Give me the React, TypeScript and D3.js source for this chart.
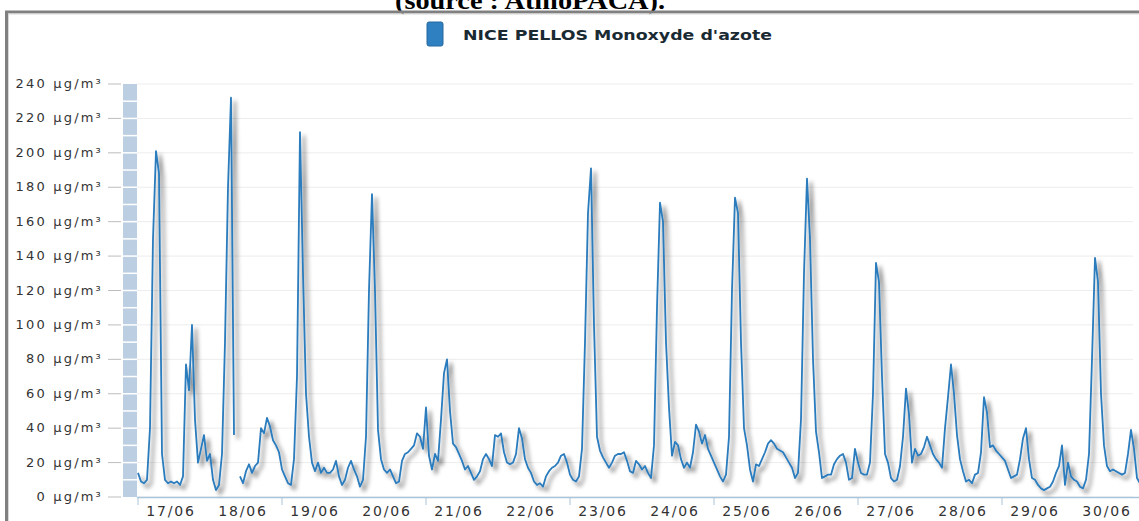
import React from "react";
import * as d3 from "d3";

// ---- Data (hourly NO, µg/m³), 2008-06-17 00:00 onwards ----
const day17 = [14, 9, 8, 10, 40, 150, 201, 188, 25, 10, 8, 9, 8, 9, 7, 12, 77, 62, 100, 45, 20, 28, 36, 21];
const day18 = [25, 10, 4, 7, 25, 90, 180, 232, 36, null, 12, 8, 15, 19, 14, 18, 20, 40, 37, 46, 41, 33, 30, 26];
const day19 = [16, 12, 8, 7, 22, 70, 212, 130, 60, 35, 20, 15, 20, 14, 17, 14, 14, 16, 21, 12, 7, 10, 17, 21];
const day20 = [16, 12, 6, 10, 35, 120, 176, 120, 39, 22, 16, 14, 16, 12, 8, 9, 21, 25, 26, 28, 30, 37, 35, 28];
const day21 = [52, 24, 16, 25, 21, 45, 72, 80, 50, 31, 29, 25, 21, 16, 18, 14, 10, 12, 15, 22, 25, 22, 18, 36];
const day22 = [35, 37, 26, 20, 19, 20, 25, 40, 34, 22, 17, 14, 9, 7, 8, 6, 12, 15, 17, 18, 20, 24, 25, 20];
const day23 = [13, 10, 9, 12, 28, 90, 165, 191, 100, 35, 27, 23, 20, 17, 20, 24, 25, 25, 26, 21, 15, 14, 21, 19];
const day24 = [16, 18, 14, 11, 30, 110, 171, 160, 90, 52, 24, 32, 30, 22, 17, 20, 17, 26, 42, 38, 31, 36, 28, 24];
const day25 = [20, 16, 12, 9, 13, 35, 120, 174, 165, 90, 40, 30, 16, 9, 19, 18, 22, 26, 31, 33, 31, 28, 27, 26];
const day26 = [23, 20, 17, 11, 14, 45, 130, 185, 150, 80, 38, 26, 11, 12, 13, 13, 19, 22, 24, 25, 20, 10, 11, 28];
const day27 = [20, 14, 13, 13, 20, 60, 136, 125, 70, 25, 20, 11, 9, 10, 18, 35, 63, 48, 20, 28, 24, 25, 29, 35];
const day28 = [30, 25, 22, 20, 17, 40, 58, 77, 60, 36, 22, 15, 9, 10, 8, 13, 14, 26, 58, 49, 29, 30, 27, 25];
const day29 = [23, 21, 16, 11, 12, 13, 22, 34, 40, 22, 11, 10, 7, 5, 4, 5, 6, 9, 14, 18, 30, 7, 20, 12];
const day30 = [10, 9, 6, 5, 10, 25, 80, 139, 125, 60, 30, 18, 15, 16, 15, 14, 13, 14, 25, 39, 28, 11, 8];

const days = [day17, day18, day19, day20, day21, day22, day23, day24, day25, day26, day27, day28, day29, day30];
const dayLabels = ["17/06", "18/06", "19/06", "20/06", "21/06", "22/06", "23/06", "24/06", "25/06", "26/06", "27/06", "28/06", "29/06", "30/06"];
const yTicks = [0, 20, 40, 60, 80, 100, 120, 140, 160, 180, 200, 220, 240];
const seriesName = "NICE PELLOS Monoxyde d'azote";
const titleText = "(source : AtmoPACA).";

const W = 1139;
const H = 521;
const start = new Date(2008, 5, 17, 0, 0, 0);
const HOUR = 3600 * 1000;

const points = days.flatMap((arr, di) =>
  arr.map((v, hi) => ({ t: new Date(start.getTime() + (di * 24 + hi) * HOUR), v }))
);

export default function App() {
  const x = d3
    .scaleTime()
    .domain([start, new Date(start.getTime() + 14 * 24 * HOUR)])
    .range([138, 138 + 72 * 14]);
  const y = d3.scaleLinear().domain([0, 240]).range([497, 84]);

  const line = d3
    .line<{ t: Date; v: number | null }>()
    .defined((d) => d.v !== null)
    .x((d) => x(d.t))
    .y((d) => y(d.v as number))
    .curve(d3.curveLinear);

  const halfTicks = d3.range(0, 241, 10);
  const plotLeft = 137;
  const plotRight = 1133;

  const dayStarts = dayLabels.map((_, i) => new Date(start.getTime() + i * 24 * HOUR));
  const labelFont = "'DejaVu Sans', Verdana, sans-serif";

  return (
    <svg
      width={W}
      height={H}
      style={{ position: "absolute", left: 0, top: 0, background: "#fff" }}
    >
      <defs>
        <filter id="shadow" x="-5%" y="-5%" width="110%" height="115%">
          <feDropShadow dx="4" dy="4" stdDeviation="2.2" floodColor="#000" floodOpacity="0.55" />
        </filter>
      </defs>
      <rect x={0} y={0} width={W} height={H} fill="#fff" />
      {/* cropped caption */}
      <text
        x={395}
        y={9}
        fontFamily="'Liberation Serif', 'Times New Roman', serif"
        fontWeight="bold"
        fontSize={26}
        fill="#000"
        textLength={270}
        lengthAdjust="spacingAndGlyphs"
      >
        {titleText}
      </text>
      {/* frame */}
      <line x1={5} x2={W} y1={12} y2={12} stroke="#808080" strokeWidth={3} />
      <line x1={6.5} x2={6.5} y1={11} y2={H} stroke="#808080" strokeWidth={3} />
      <line x1={8} x2={W} y1={14} y2={14} stroke="#d8d8d8" strokeWidth={1} />
      <line x1={8.5} x2={8.5} y1={14} y2={H} stroke="#d8d8d8" strokeWidth={1} />

      {/* legend */}
      <rect x={427} y={22} width={16} height={24} rx={2} fill="#2f80c0" stroke="#2468a0" strokeWidth={1} />
      <text
        x={463}
        y={40}
        fontFamily={labelFont}
        fontWeight="bold"
        fontSize={14}
        fill="#1a2a33"
        textLength={309}
        lengthAdjust="spacingAndGlyphs"
      >
        {seriesName}
      </text>

      {/* grid */}
      {yTicks.map((t) => (
        <line key={"g" + t} x1={plotLeft} x2={plotRight} y1={y(t)} y2={y(t)} stroke="#ededed" strokeWidth={1} />
      ))}

      {/* left segmented bar */}
      <rect x={123} y={y(240)} width={14} height={y(0) - y(240)} fill="#bccfe2" />
      {halfTicks.slice(1, -1).map((t) => (
        <line key={"s" + t} x1={123} x2={137} y1={y(t)} y2={y(t)} stroke="#fff" strokeWidth={1.5} />
      ))}

      {/* y axis ticks and labels */}
      {yTicks.map((t) => (
        <g key={"y" + t}>
          <line x1={108} x2={121} y1={y(t)} y2={y(t)} stroke="#bdbdbd" strokeWidth={1} />
          <text
            x={103}
            y={y(t) + 4}
            textAnchor="end"
            fontFamily={labelFont}
            fontSize={13}
            letterSpacing={2.2}
            fill="#333"
          >
            {`${t} µg/m³`}
          </text>
        </g>
      ))}

      {/* x axis */}
      <line x1={137} x2={W} y1={497.5} y2={497.5} stroke="#aac5da" strokeWidth={1.5} />
      {dayStarts
        .filter((_, i) => i % 2 === 0)
        .map((d, i) => (
          <line key={"xt" + i} x1={x(d)} x2={x(d)} y1={497.5} y2={505} stroke="#aac5da" strokeWidth={1} />
        ))}
      {dayStarts.map((d, i) => (
        <text
          key={"xl" + i}
          x={x(new Date(d.getTime() + 11 * HOUR))}
          y={516}
          textAnchor="middle"
          fontFamily={labelFont}
          fontSize={14}
          letterSpacing={1.8}
          fill="#333"
        >
          {dayLabels[i]}
        </text>
      ))}

      {/* series */}
      <path
        d={line(points) || ""}
        fill="none"
        stroke="#2a7bbd"
        strokeWidth={1.8}
        strokeLinejoin="round"
        filter="url(#shadow)"
      />
    </svg>
  );
}
